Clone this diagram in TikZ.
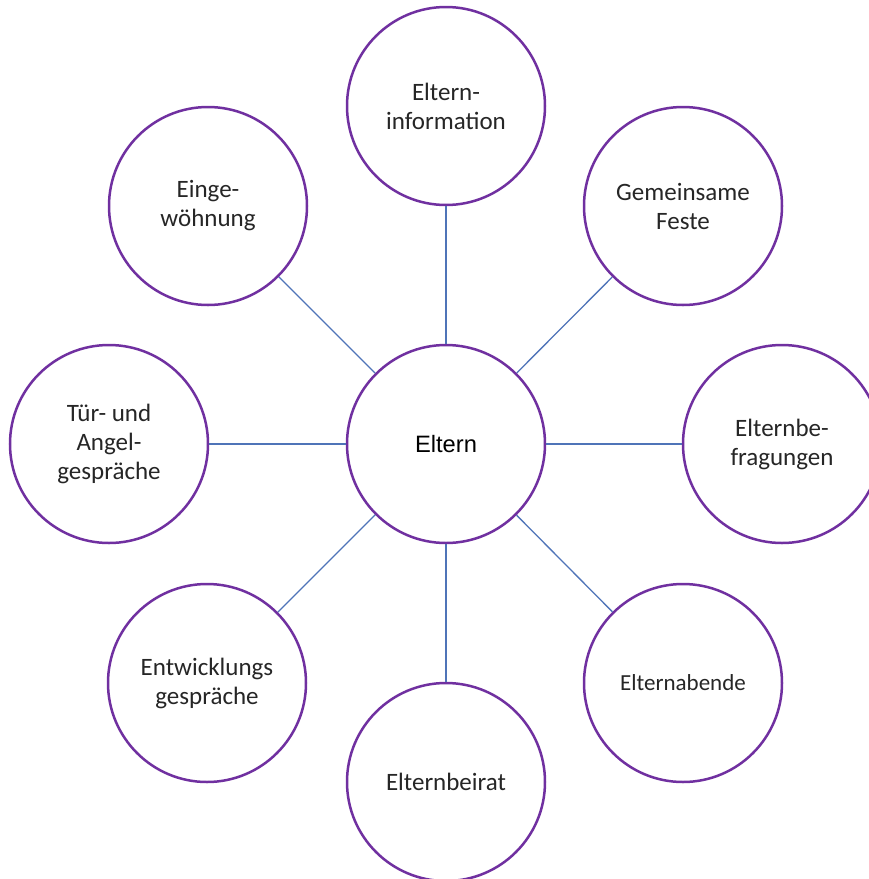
\documentclass[tikz,border=0pt]{standalone}
\usepackage{fontspec}
\setmainfont{Carlito}
\newfontfamily\arialfont{Liberation Sans}
\definecolor{ringpurple}{RGB}{112,48,160}
\definecolor{linkblue}{RGB}{79,116,184}
\definecolor{txtgray}{RGB}{38,38,38}
\begin{document}
\begin{tikzpicture}[x=1pt,y=-1pt,
  bubble/.style={circle,draw=ringpurple,line width=2.5pt,fill=white,
    minimum size=198pt,inner sep=0pt,align=center,text=txtgray,
    font=\fontsize{25}{29}\selectfont},
  link/.style={draw=linkblue,line width=1.3pt}]
\useasboundingbox (0,0) rectangle (869,879);
\clip (0,0) rectangle (869,879);
\node[bubble,text=black,font=\arialfont\fontsize{23.7}{28}\selectfont] (c) at (446,444) {Eltern};
\node[bubble] (n) at (446,106) {Eltern-\\information};
\node[bubble] (ne) at (683,206) {Gemeinsame\\Feste};
\node[bubble] (e) at (782,444) {Elternbe-\\fragungen};
\node[bubble,font=\fontsize{23}{28}\selectfont] (se) at (683,683) {Elternabende};
\node[bubble] (s) at (446,782) {Elternbeirat};
\node[bubble] (sw) at (207,683) {Entwicklungs\\gespräche};
\node[bubble] (w) at (109,444) {Tür- und\\Angel-\\gespräche};
\node[bubble] (nw) at (208,206) {Einge-\\wöhnung};
\foreach \t in {n,ne,e,se,s,sw,w,nw}{
  \draw[link] (c) -- (\t);
}
\end{tikzpicture}
\end{document}
